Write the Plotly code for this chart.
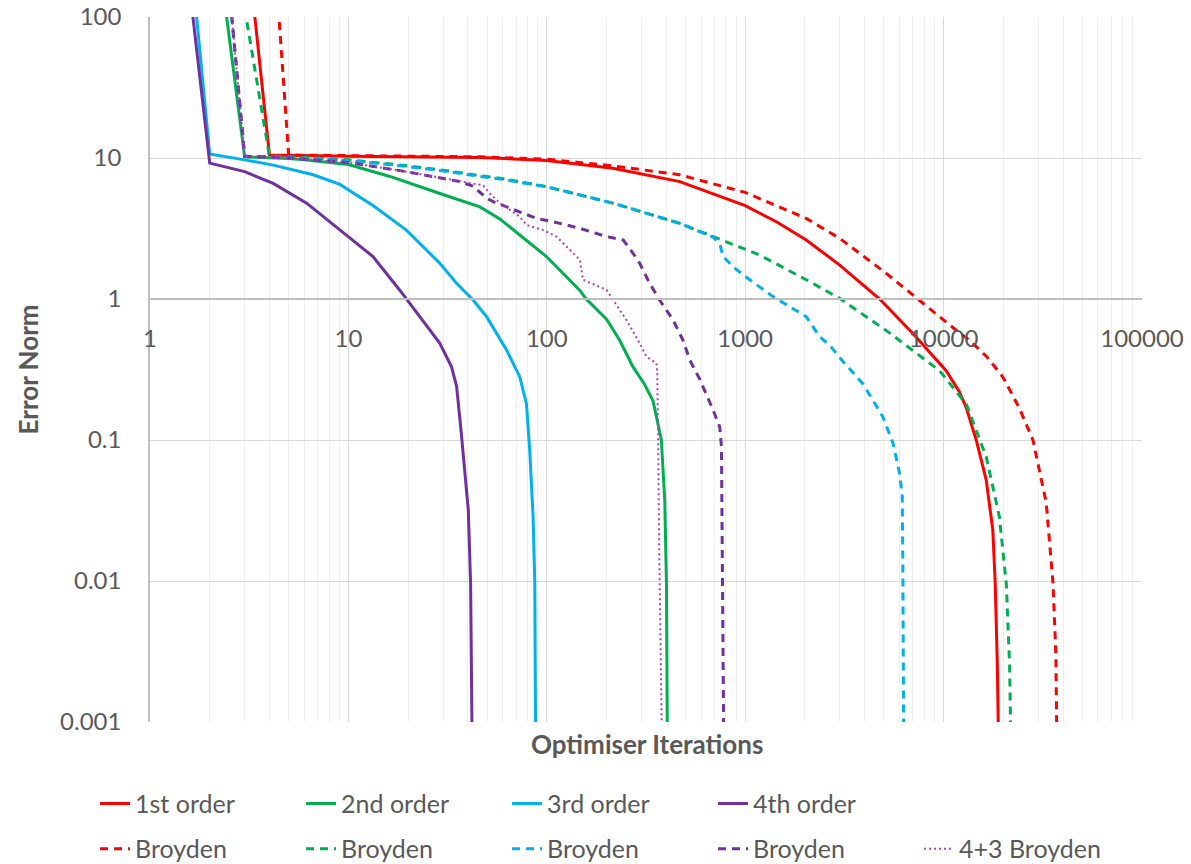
import plotly.graph_objects as go

# ---------------- data ----------------
x_tick_vals = [1, 10, 100, 1000, 10000, 100000]
x_tick_text = ["1", "10", "100", "1000", "10000", "100000"]
y_tick_vals = [0.001, 0.01, 0.1, 1, 10, 100]
y_tick_text = ["0.001", "0.01", "0.1", "1", "10", "100"]

it_1st = [3, 4, 10, 46, 100, 215, 468, 1000, 1450, 2030, 2995, 4760, 7000, 10300, 12000,
          13000, 14600, 16400, 17700, 18200, 18650, 18900]
err_1st = [480, 10.5, 10.3, 10.1, 9.6, 8.45, 6.8, 4.6, 3.5, 2.62, 1.74, 1.0, 0.57, 0.31, 0.22,
           0.17, 0.1, 0.052, 0.023, 0.0097, 0.0026, 0.0008]

it_2nd = [2, 3, 5, 6, 10, 16.2, 28.9, 46, 58, 99.6, 146, 158, 200, 233, 272, 310, 343, 378,
          393, 401, 405]
err_2nd = [850, 10.2, 9.9, 9.7, 9.0, 7.4, 5.6, 4.5, 3.7, 2.0, 1.16, 1.0, 0.72, 0.51, 0.33,
           0.25, 0.19, 0.1, 0.0375, 0.0096, 0.0008]

it_3rd = [1, 2, 3, 4.18, 6.65, 9.06, 13.3, 19.6, 28.9, 35, 42.6, 49.7, 62.7, 73.1, 79, 82,
          85.3, 87, 87.8]
err_3rd = [2.8e5, 10.7, 9.7, 8.9, 7.6, 6.5, 4.6, 3.08, 1.79, 1.3, 0.98, 0.75, 0.435, 0.28,
           0.18, 0.085, 0.0286, 0.0096, 0.0008]

it_4th = [1, 2, 3, 4.18, 6.16, 9.06, 13.3, 18.2, 22.9, 28.9, 33.1, 35.1, 37, 40.2, 41.3, 42]
err_4th = [4.4e4, 9.2, 8.0, 6.6, 4.78, 3.08, 2.0, 1.15, 0.75, 0.485, 0.33, 0.24, 0.115,
           0.032, 0.0096, 0.0008]

it_b1 = [4, 5, 10, 46, 100, 215, 468, 1000, 2030, 2995, 5140, 7870, 11580, 13500, 16500,
         19900, 24000, 28200, 32900, 35600, 36800, 37200]
err_b1 = [900, 10.5, 10.4, 10.2, 9.8, 8.8, 7.6, 5.7, 3.73, 2.69, 1.52, 0.93, 0.60, 0.51, 0.39,
          0.28, 0.17, 0.1, 0.036, 0.0096, 0.003, 0.0008]

it_b2 = [3, 4, 6, 10, 20, 30, 46, 58, 100, 216, 468, 689, 938, 1183, 2030, 2993, 5300,
         9550, 13000, 16400, 19100, 20700, 21500, 21800]
err_b2 = [115, 10.3, 10.1, 9.7, 8.8, 8.2, 7.5, 7.2, 6.25, 4.78, 3.44, 2.77, 2.35, 2.05,
          1.37, 1.01, 0.58, 0.31, 0.18, 0.076, 0.0286, 0.0096, 0.0026, 0.0008]

it_b3 = [2, 3, 5, 10, 20, 30, 46, 58, 100, 216, 468, 689, 744, 774, 869, 1054, 1380, 2030,
         2372, 2670, 3110, 3925, 4940, 5560, 6000, 6190, 6230, 6290]
err_b3 = [4900, 10.3, 10.1, 9.6, 8.7, 8.1, 7.4, 7.1, 6.25, 4.78, 3.44, 2.75, 2.48, 2.0,
          1.69, 1.37, 1.04, 0.75, 0.54, 0.47, 0.36, 0.25, 0.146, 0.095, 0.058, 0.04, 0.013,
          0.0008]

it_b4 = [2, 3, 5, 10, 19.6, 31.2, 36.5, 42.6, 49.7, 53.6, 62.7, 73, 88.7, 107.6, 147, 200,
         243, 272, 294, 330, 371, 433, 486, 525, 590, 689, 744, 759, 763, 779]
err_b4 = [4900, 10.3, 10.0, 9.3, 8.0, 7.1, 6.8, 6.3, 5.2, 4.9, 4.5, 4.16, 3.73, 3.53, 3.17,
          2.77, 2.62, 2.11, 1.79, 1.29, 0.98, 0.71, 0.51, 0.37, 0.27, 0.163, 0.124, 0.09,
          0.021, 0.0008]

it_b43 = [2, 3, 5, 10, 19.6, 31.2, 42.6, 47.8, 51.6, 58, 73, 79, 96, 112, 147, 152, 200, 216,
          252, 294, 318, 357, 360, 364, 368, 380]
err_b43 = [4900, 10.3, 10.0, 9.3, 8.0, 7.1, 6.6, 6.4, 5.6, 4.8, 3.84, 3.35, 3.08, 2.77, 1.89,
           1.37, 1.16, 0.98, 0.71, 0.485, 0.39, 0.35, 0.31, 0.11, 0.021, 0.0008]

# ---------------- styling ----------------
RED, GREEN, BLUE, PURPLE, MAGENTA = "#FF0000", "#00B050", "#00B0F0", "#7030A0", "#B040B8"
DASH = "8px,6px"
FONT = "Lato"
GREY = "#595959"

series = [
    (it_1st, err_1st, "1st order", RED, "solid", 3, "legend"),
    (it_2nd, err_2nd, "2nd order", GREEN, "solid", 3, "legend"),
    (it_3rd, err_3rd, "3rd order", BLUE, "solid", 3, "legend"),
    (it_4th, err_4th, "4th order", PURPLE, "solid", 3, "legend"),
    (it_b1, err_b1, "Broyden", RED, DASH, 3, "legend2"),
    (it_b2, err_b2, "Broyden", GREEN, DASH, 3, "legend2"),
    (it_b3, err_b3, "Broyden", BLUE, DASH, 3, "legend2"),
    (it_b4, err_b4, "Broyden", PURPLE, DASH, 3, "legend2"),
    (it_b43, err_b43, "4+3 Broyden", MAGENTA, "2px,3px", 2, "legend2"),
]

fig = go.Figure()
for xs, ys, name, color, dash, width, leg in series:
    fig.add_trace(go.Scatter(
        x=xs, y=ys, mode="lines", name=name, legend=leg,
        line=dict(color=color, width=width, dash=dash),
    ))

minor_x = [m * 10 ** d for d in range(0, 5) for m in range(2, 10)]

fig.update_layout(
    width=1191, height=864,
    margin=dict(l=150, r=49, t=17, b=142, autoexpand=False),
    paper_bgcolor="white", plot_bgcolor="white",
    font=dict(family=FONT, color=GREY),
    showlegend=True,
    xaxis=dict(
        type="log", range=[0, 5],
        tickmode="array", tickvals=x_tick_vals, ticktext=x_tick_text,
        tickfont=dict(family=FONT, size=24, color=GREY),
        showgrid=True, gridcolor="#d9d9d9", gridwidth=1,
        minor=dict(tickmode="array", tickvals=minor_x, showgrid=True,
                   gridcolor="#eeeeee", gridwidth=1),
        showline=True, linecolor="#bfbfbf", linewidth=1.5,
        anchor="free", position=0.6,
        ticks="", ticklabelstandoff=18, zeroline=False,
    ),
    yaxis=dict(
        type="log", range=[-3, 2],
        tickmode="array", tickvals=y_tick_vals, ticktext=y_tick_text,
        tickfont=dict(family=FONT, size=24, color=GREY),
        showgrid=True, gridcolor="#d9d9d9", gridwidth=1,
        showline=True, linecolor="#bfbfbf", linewidth=1.5,
        ticks="", ticklabelstandoff=22, zeroline=False,
    ),
    legend=dict(
        orientation="h", x=-0.0554, xanchor="left", y=-0.116, yanchor="middle",
        entrywidth=161, entrywidthmode="pixels",
        font=dict(family=FONT, size=25, color=GREY), bgcolor="rgba(0,0,0,0)",
    ),
    legend2=dict(
        orientation="h", x=-0.0554, xanchor="left", y=-0.180, yanchor="middle",
        entrywidth=161, entrywidthmode="pixels",
        font=dict(family=FONT, size=25, color=GREY), bgcolor="rgba(0,0,0,0)",
    ),
    annotations=[
        dict(text="<b>Optimiser Iterations</b>", xref="paper", yref="paper",
             x=0.501, y=-0.0312, xanchor="center", yanchor="middle", showarrow=False,
             font=dict(family=FONT, size=26, color=GREY)),
        dict(text="<b>Error Norm</b>", xref="paper", yref="paper", textangle=-90,
             x=-0.123, y=0.5, xanchor="center", yanchor="middle", showarrow=False,
             font=dict(family=FONT, size=26, color=GREY)),
    ],
)

fig.write_html("out.html")
